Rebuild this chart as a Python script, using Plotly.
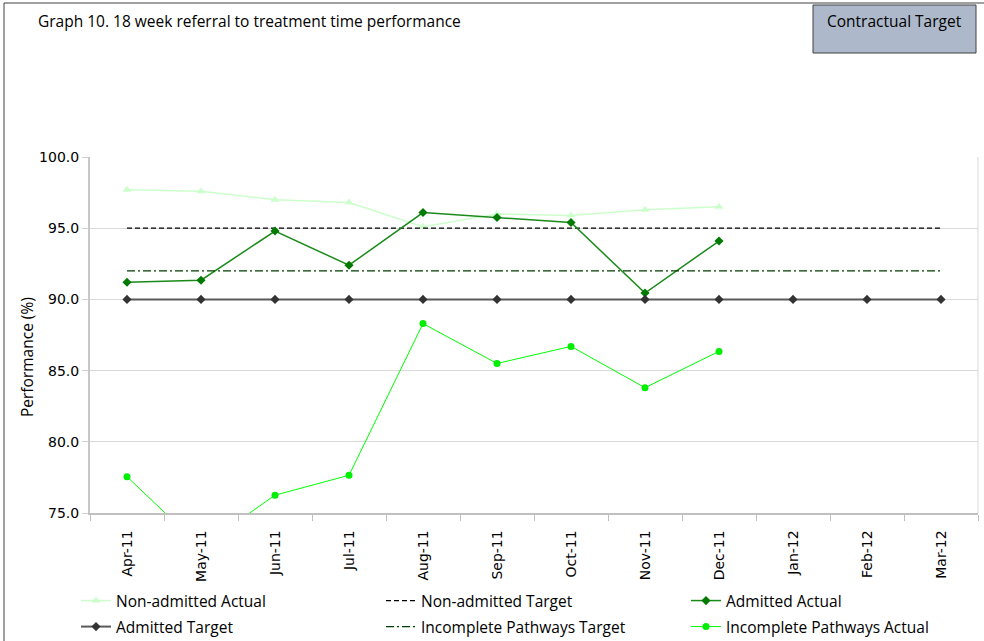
import plotly.graph_objects as go

# Months of the 2011/12 financial year
months = ["Apr-11", "May-11", "Jun-11", "Jul-11", "Aug-11", "Sep-11",
          "Oct-11", "Nov-11", "Dec-11", "Jan-12", "Feb-12", "Mar-12"]

# Performance (%) by series
non_admitted_actual = [97.7, 97.6, 97.0, 96.8, 95.1, 96.0, 95.9, 96.3, 96.5]
non_admitted_target = [95.0] * 12
admitted_actual = [91.2, 91.35, 94.8, 92.4, 96.1, 95.75, 95.4, 90.45, 94.1]
admitted_target = [90.0] * 12
incomplete_target = [92.0] * 12
incomplete_actual = [77.55, 72.6, 76.25, 77.65, 88.3, 85.5, 86.7, 83.8, 86.35]

# Plot-area geometry in pixels
FIG_W, FIG_H = 984, 641
PL, PR, PT, PB = 90, 978, 157, 513


def px_x(px):
    return (px - PL) / (PR - PL)


def px_y(py):
    return (PB - py) / (PB - PT)


TEXT_FONT = "'Open Sans', Lato, sans-serif"
TEXT_SIZE = 15.5
TICK_FONT = "'DejaVu Sans', Verdana, sans-serif"

# Legend key slots: (legend id, left edge px, row centre px)
legend_slots = [
    ("legend", 76, 601), ("legend2", 381, 601), ("legend3", 686, 601),
    ("legend4", 76, 627), ("legend5", 381, 627), ("legend6", 686, 627),
]

fig = go.Figure()

fig.add_trace(go.Scatter(
    x=months[:len(non_admitted_actual)], y=non_admitted_actual,
    name="Non-admitted Actual", mode="lines+markers",
    line=dict(color="#ccffcc", width=1.5),
    marker=dict(symbol="triangle-up", size=8, color="#ccffcc"),
    legend="legend",
))
fig.add_trace(go.Scatter(
    x=months, y=non_admitted_target,
    name="Non-admitted Target", mode="lines",
    line=dict(color="#000000", width=1.25, dash="5px,3px"),
    legend="legend2",
))
fig.add_trace(go.Scatter(
    x=months[:len(admitted_actual)], y=admitted_actual,
    name="Admitted Actual", mode="lines+markers",
    line=dict(color="#1a8a1a", width=1.5),
    marker=dict(symbol="diamond", size=7, color="#007a00"),
    legend="legend3",
))
fig.add_trace(go.Scatter(
    x=months, y=admitted_target,
    name="Admitted Target", mode="lines+markers",
    line=dict(color="#5a5a5a", width=2),
    marker=dict(symbol="diamond", size=7, color="#333333"),
    legend="legend4",
))
fig.add_trace(go.Scatter(
    x=months, y=incomplete_target,
    name="Incomplete Pathways Target", mode="lines",
    line=dict(color="#003d00", width=1.25, dash="8px,3px,2px,3px"),
    legend="legend5",
))
fig.add_trace(go.Scatter(
    x=months[:len(incomplete_actual)], y=incomplete_actual,
    name="Incomplete Pathways Actual", mode="lines+markers",
    line=dict(color="#00ff00", width=1),
    marker=dict(symbol="circle", size=7, color="#00ee00"),
    legend="legend6",
))

legend_layout = {}
for key, left, row in legend_slots:
    legend_layout[key] = dict(
        orientation="h", xref="container", yref="container",
        x=left / FIG_W, y=1 - row / FIG_H,
        xanchor="left", yanchor="middle",
        font=dict(family=TEXT_FONT, size=TEXT_SIZE, color="#000000"),
        bgcolor="rgba(0,0,0,0)", borderwidth=0, itemclick=False,
    )

fig.update_layout(
    width=FIG_W, height=FIG_H,
    margin=dict(l=PL, r=FIG_W - PR, t=PT, b=FIG_H - PB, autoexpand=False),
    paper_bgcolor="#ffffff", plot_bgcolor="#ffffff",
    showlegend=True,
    xaxis=dict(
        type="category", categoryarray=months, range=[-0.5, 11.5],
        showgrid=False, showline=True, linecolor="#c0c0c0", linewidth=1.5,
        ticks="outside", tickson="boundaries", ticklen=6, tickcolor="#c0c0c0",
        ticklabelstandoff=10,
        tickangle=-90, tickfont=dict(family=TICK_FONT, size=14, color="#000000"),
        zeroline=False,
    ),
    yaxis=dict(
        range=[75, 100], dtick=5, tick0=75, tickformat=".1f",
        showgrid=True, gridcolor="#d9d9d9", gridwidth=1,
        showline=True, linecolor="#c8c8c8", linewidth=2,
        ticks="outside", ticklen=6, tickcolor="#d0d0d0",
        tickfont=dict(family=TICK_FONT, size=14, color="#000000"),
        zeroline=False,
    ),
    font=dict(family=TEXT_FONT),
    **legend_layout,
)

# Outer frame (top and left edges) and right edge of the plot area
fig.add_shape(type="line", xref="paper", yref="paper",
              x0=px_x(4), x1=px_x(FIG_W + 2), y0=px_y(3), y1=px_y(3),
              line=dict(color="#404040", width=1))
fig.add_shape(type="line", xref="paper", yref="paper",
              x0=px_x(4), x1=px_x(4), y0=px_y(3), y1=px_y(FIG_H + 2),
              line=dict(color="#404040", width=1))
fig.add_shape(type="line", xref="paper", yref="paper",
              x0=1, x1=1, y0=0, y1=1,
              line=dict(color="#d9d9d9", width=1))

# "Contractual Target" key box
fig.add_shape(type="rect", xref="paper", yref="paper",
              x0=px_x(813), x1=px_x(976), y0=px_y(53), y1=px_y(5),
              fillcolor="#adb9ca", line=dict(color="#404040", width=1))
fig.add_annotation(xref="paper", yref="paper", x=px_x(894.5), y=px_y(21),
                   xanchor="center", yanchor="middle", showarrow=False,
                   text="Contractual Target",
                   font=dict(family=TEXT_FONT, size=TEXT_SIZE, color="#000000"))

# Chart title
fig.add_annotation(xref="paper", yref="paper", x=px_x(36), y=px_y(21),
                   xanchor="left", yanchor="middle", showarrow=False,
                   text="Graph 10. 18 week referral to treatment time performance",
                   font=dict(family=TEXT_FONT, size=TEXT_SIZE, color="#000000"))

# Y-axis title
fig.add_annotation(xref="paper", yref="paper", x=px_x(27), y=px_y(357),
                   xanchor="center", yanchor="middle", showarrow=False,
                   textangle=-90, text="Performance (%)",
                   font=dict(family=TEXT_FONT, size=TEXT_SIZE, color="#000000"))

fig.write_html("out.html")
